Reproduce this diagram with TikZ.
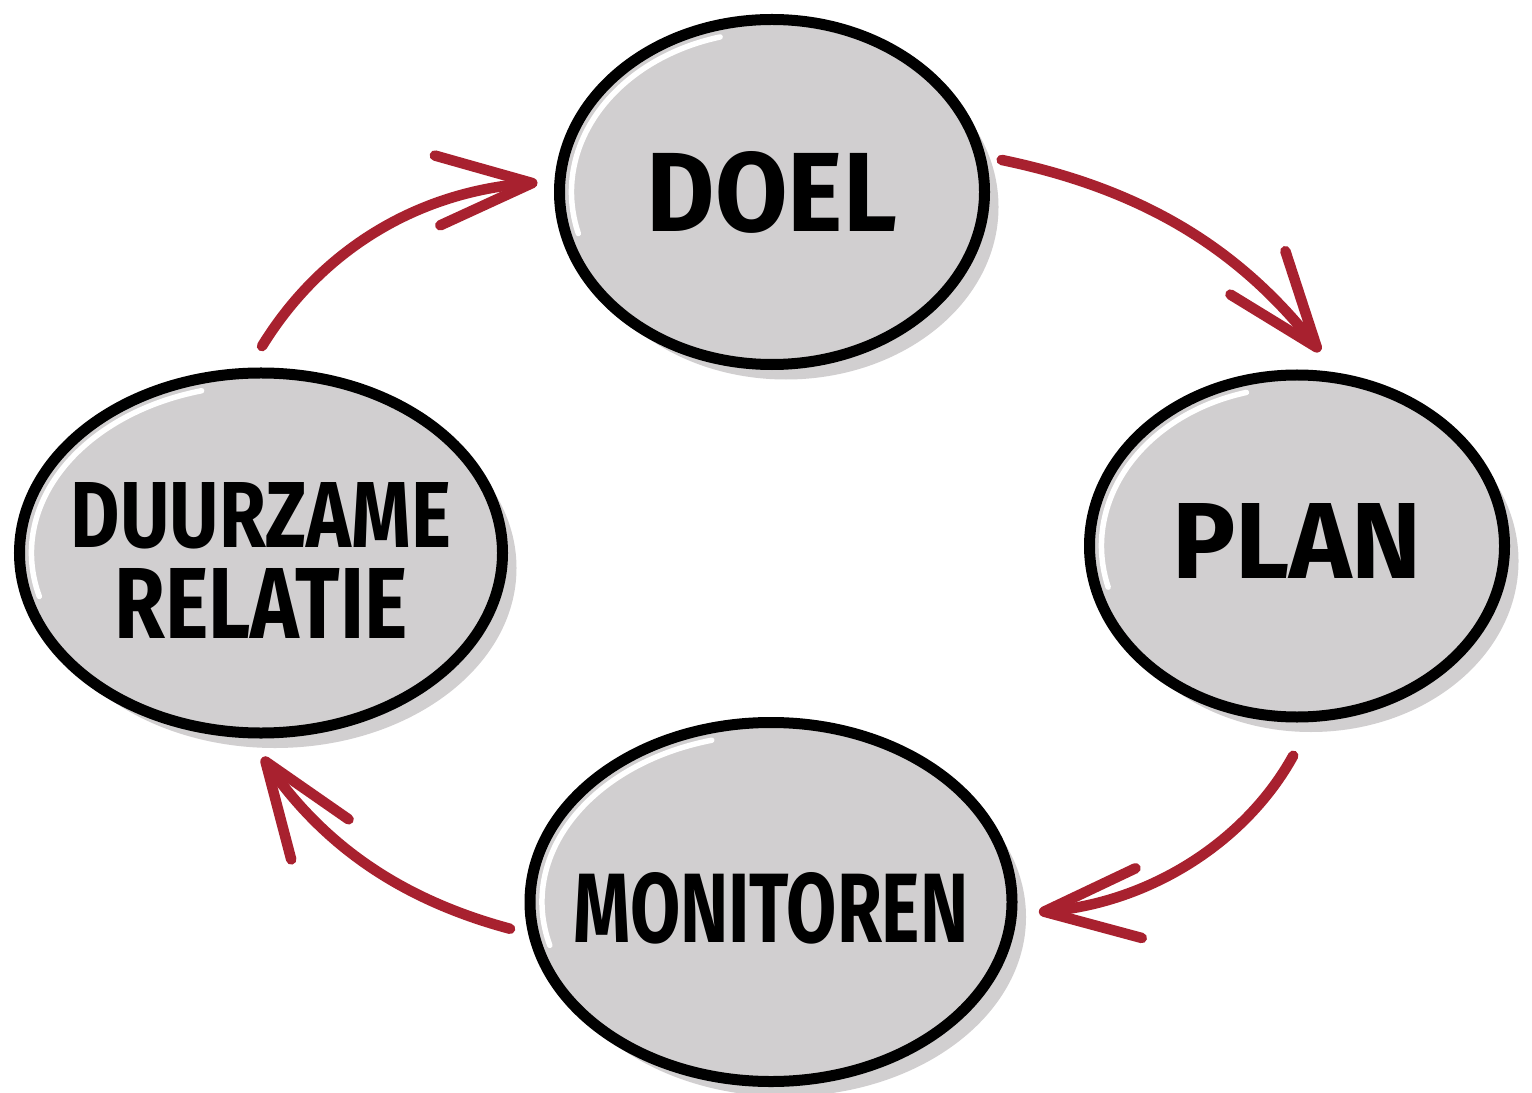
\documentclass[tikz,border=0pt]{standalone}
\usepackage{fontspec}
\usepackage{graphicx}
\setmainfont{Fira Sans}
\usetikzlibrary{shapes.geometric,arrows.meta,shadows}
\definecolor{bubble}{HTML}{D1CFD0}
\definecolor{arrowred}{HTML}{A8212F}
\newcommand{\bubbletext}[2]{\makebox[0pt]{\smash{\raisebox{#1}{#2}}}}
\begin{document}
\begin{tikzpicture}[x=0.2mm,y=-0.2mm,
  bubblenode/.style={ellipse, draw=black, line width=2.2mm, fill=bubble,
    drop shadow={shadow xshift=2.8mm, shadow yshift=-3mm, fill=bubble, opacity=1},
    inner sep=0pt, outer sep=0pt, font=\bfseries},
  hl/.style 2 args={path picture={\draw[white, line width=1.1mm, line cap=round]
    ([shift={(105:#1 and #2)}]path picture bounding box.center)
    arc[start angle=105, end angle=195, x radius=#1, y radius=#2];}},
  flow/.style={draw=arrowred, line width=2.1mm, line cap=round,
    -{Straight Barb[length=19mm,width=14mm,round]}}]
\useasboundingbox (0,0) rectangle (1532,1093);
\fill[white] (0,0) rectangle (1532,1093);

\node[bubblenode, hl={40.1mm}{32.1mm}, minimum width=85mm, minimum height=69mm] (doel) at (772,192)
  {\bubbletext{-8mm}{\resizebox{50mm}{16mm}{DOEL}}};
\node[bubblenode, hl={39.1mm}{31.8mm}, minimum width=83mm, minimum height=68.4mm] (plan) at (1297,546)
  {\bubbletext{-6.5mm}{\resizebox{50mm}{15mm}{PLAN}}};
\node[bubblenode, hl={45.8mm}{33.5mm}, minimum width=96.4mm, minimum height=71.8mm] (mon) at (771,902)
  {\bubbletext{-8mm}{\resizebox{79mm}{14mm}{MONITOREN}}};
\node[bubblenode, hl={45.9mm}{33.6mm}, minimum width=96.6mm, minimum height=72mm] (duur) at (261,553)
  {\bubbletext{-3mm}{\begin{tabular}{@{}c@{}}\resizebox{76mm}{13mm}{DUURZAME}\\[3mm]\resizebox{58.6mm}{14mm}{RELATIE}\end{tabular}}};

\draw[flow, shorten <=4.5mm, shorten >=7mm] (doel.10) to[bend left=20] (plan.75);
\draw[flow, shorten <=9mm, shorten >=5.5mm] (plan.-84) to[bend left=28] (mon.-3);
\draw[flow, shorten <=5mm, shorten >=6mm] (mon.188) to[bend left=20] (duur.-95);
\draw[flow, shorten <=6.4mm, shorten >=4.5mm] (duur.95) to[bend left=27] (doel.177);
\end{tikzpicture}
\end{document}
